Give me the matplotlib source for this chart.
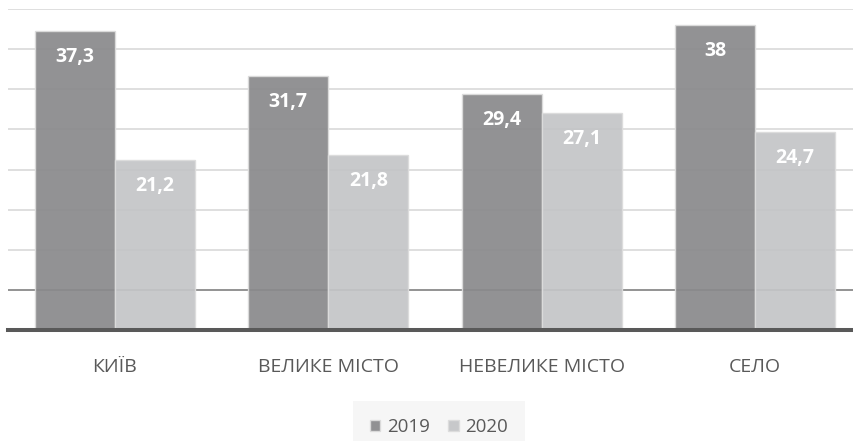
import numpy as np
import matplotlib.pyplot as plt

# Дані
categories = ["КИЇВ", "ВЕЛИКЕ МІСТО", "НЕВЕЛИКЕ МІСТО", "СЕЛО"]
years = ["2019", "2020"]
values_2019 = [37.3, 31.7, 29.4, 38]
values_2020 = [21.2, 21.8, 27.1, 24.7]

colors = ["#8a8a8c", "#c4c5c7"]

plt.rcParams["font.family"] = ["Open Sans", "DejaVu Sans"]

fig = plt.figure(figsize=(8.54, 4.41), dpi=100)
ax = fig.add_axes([8 / 854, 111 / 441, 854 / 854, 321 / 441])

x = np.arange(len(categories))
w = 0.375

for i, (vals, lab) in enumerate(zip([values_2019, values_2020], years)):
    bars = ax.bar(x + (i - 0.5) * w, vals, w, color=colors[i], alpha=0.93,
                  edgecolor="#dcdcdc", linewidth=1, label=lab, zorder=2)
    for b, v in zip(bars, vals):
        txt = f"{v:g}".replace(".", ",")
        ax.annotate(txt, (b.get_x() + b.get_width() / 2, v), xytext=(0, -26),
                    textcoords="offset pixels",
                    ha="center", va="center", color="white",
                    fontsize=14, fontweight="bold", zorder=4)

ax.set_xlim(-0.5, 3.5)
ax.set_ylim(0, 40)
ax.set_yticks(np.arange(5, 41, 5))
ax.yaxis.grid(True, color="#d9d9d9", linewidth=1.2, zorder=0)
ax.set_axisbelow(True)
ax.get_ygridlines()[0].set_color("#808080")
ax.tick_params(axis="y", left=False, labelleft=False)

ax.set_xticks(x)
ax.set_xticklabels(categories, fontsize=14, color="#595959")
ax.tick_params(axis="x", length=0, pad=20)

for s in ["top", "right", "left"]:
    ax.spines[s].set_visible(False)
ax.spines["bottom"].set_color("#595959")
ax.spines["bottom"].set_linewidth(2.9)

leg = fig.legend(loc="center", bbox_to_anchor=(439 / 854, 1 - 427 / 441), ncol=2,
                 frameon=True, fontsize=13.5, handlelength=0.55, handleheight=0.55,
                 handletextpad=0.35, columnspacing=1.0, labelcolor="#595959",
                 borderpad=0.6)
leg.get_frame().set_facecolor("#f4f4f4")
leg.get_frame().set_edgecolor("none")
leg.get_frame().set_boxstyle("square")

fig.savefig("out.png", dpi=100)
